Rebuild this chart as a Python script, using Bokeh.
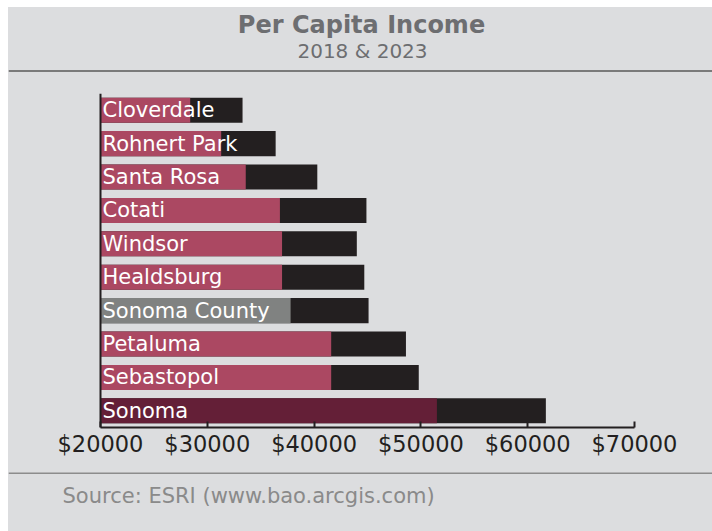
from bokeh.plotting import figure
from bokeh.layouts import column
from bokeh.models import (FactorRange, Range1d, FixedTicker, PrintfTickFormatter,
                          Span, ColumnDataSource)
from bokeh.core.properties import value
from bokeh.embed import file_html
from bokeh.resources import INLINE

# ---- data ----
cities = ["Cloverdale", "Rohnert Park", "Santa Rosa", "Cotati", "Windsor",
          "Healdsburg", "Sonoma County", "Petaluma", "Sebastopol", "Sonoma"]
income_2018 = [28400, 31300, 33600, 36800, 37000, 37000, 37800, 41600, 41600, 51500]
income_2023 = [33300, 36400, 40300, 44900, 44000, 44700, 45100, 48600, 49800, 61700]
bar_colors_2018 = ["#ab4862", "#ab4862", "#ab4862", "#ab4862", "#ab4862",
                   "#ab4862", "#808281", "#ab4862", "#ab4862", "#641f37"]
x_ticks = [20000, 30000, 40000, 50000, 60000, 70000]
x_start = 20000
x_end = 70000

title_text = "Per Capita Income"
subtitle_text = "2018 & 2023"
source_text = "Source: ESRI (www.bao.arcgis.com)"

BG = "#dcdddf"
DARK = "#231f20"
FONT = "DejaVu Sans"
W = 704
# axis spans pixels 92..626 of the 704 px wide frame
AX_L, AX_R = 92, 626
per_px = (x_end - x_start) / (AX_R - AX_L)
view_start = x_start - AX_L * per_px
view_end = x_end + (W - AX_R) * per_px


def style(f):
    f.background_fill_color = None
    f.border_fill_color = None
    f.outline_line_color = None
    f.styles = {"background-color": BG}


def panel(height):
    f = figure(width=W, height=height, output_backend="svg", toolbar_location=None,
               x_range=Range1d(0, W), y_range=Range1d(height, 0),
               x_axis_location=None, y_axis_location=None, min_border=0)
    f.grid.visible = False
    style(f)
    return f


# ---- header ----
HH = 86
head = panel(HH)
head.text(x=[353], y=[17], text=[title_text], text_align="center",
          text_baseline="middle", text_color="#6d6e71", text_font=value(FONT),
          text_font_style="bold", text_font_size="24px")
head.text(x=[354], y=[43], text=[subtitle_text], text_align="center",
          text_baseline="middle", text_color="#6d6e71", text_font=value(FONT),
          text_font_size="20px")
head.quad(left=[0], right=[W], top=[62.5], bottom=[64.5], fill_color="#7a7a7a",
          line_color=None)

# ---- main chart ----
src = ColumnDataSource(dict(city=cities, v18=income_2018, v23=income_2023,
                            c18=bar_colors_2018, base=[x_start] * len(cities)))

p = figure(width=W, height=373, output_backend="svg", toolbar_location=None,
           x_range=Range1d(view_start, view_end),
           y_range=FactorRange(factors=list(reversed(cities))),
           y_axis_location=None,
           min_border_left=0, min_border_right=0, min_border_top=0,
           min_border_bottom=39)
style(p)
p.xgrid.visible = False
p.ygrid.visible = False

p.hbar(y="city", left="base", right="v23", height=0.75, source=src,
       fill_color=DARK, line_color=None)
p.hbar(y="city", left="base", right="v18", height=0.75, source=src,
       fill_color="c18", line_color=None)
p.text(x="base", y="city", text="city", source=src, x_offset=2,
       text_baseline="middle", text_align="left", text_color="white",
       text_font=value(FONT), text_font_size="21px")

p.add_layout(Span(location=x_start, dimension="height", line_color=DARK, line_width=2))
xa = p.xaxis[0]
xa.bounds = (x_start, x_end)
xa.ticker = FixedTicker(ticks=x_ticks)
xa.formatter = PrintfTickFormatter(format="$%d")
xa.axis_line_color = DARK
xa.axis_line_width = 2
xa.major_tick_line_color = DARK
xa.major_tick_line_width = 2
xa.major_tick_in = 6
xa.major_tick_out = 0
xa.minor_tick_line_color = None
xa.major_label_text_font = FONT
xa.major_label_text_font_size = "22.5px"
xa.major_label_text_color = DARK
xa.major_label_standoff = 3

# ---- footer ----
FH = 65
foot = panel(FH)
foot.quad(left=[0], right=[W], top=[6], bottom=[7.5], fill_color="#8c8c8c",
          line_color=None)
foot.text(x=[54], y=[29], text=[source_text], text_align="left",
          text_baseline="middle", text_color="#8a8a8a", text_font=value(FONT),
          text_font_size="21px")

layout = column(head, p, foot, spacing=0)
layout.margin = (7, 0, 0, 8)
layout.styles = {"background-color": BG}

open("out.html", "w").write(file_html(layout, INLINE))
